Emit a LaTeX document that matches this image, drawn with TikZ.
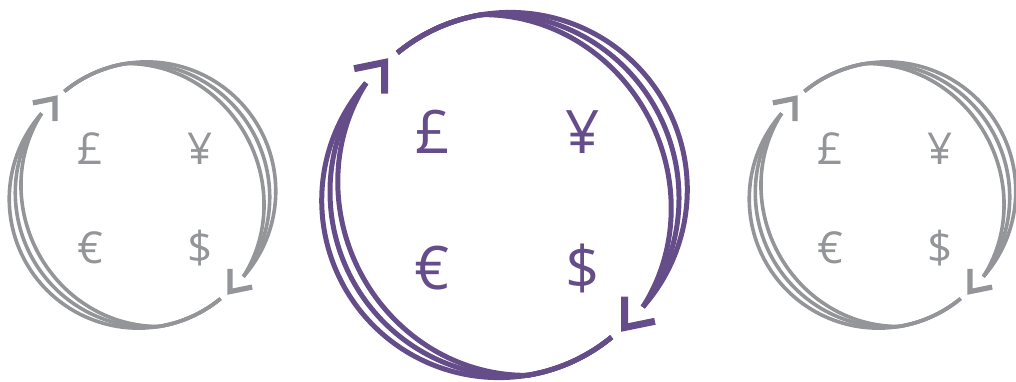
\documentclass[tikz,border=0pt]{standalone}
\usepackage{fontspec}
\setmainfont{Open Sans}
\definecolor{purp}{HTML}{654D8A}
\definecolor{gry}{HTML}{939598}
\tikzset{
  declare function={
    prog(\x)=(127-\x)/166;
    fb(\t)=(\t>0.18)*sin(180*(\t-0.18)/0.82);
    rr(\x,\k)=178+7*sin(180*prog(\x))-\k*10.5*fb(prog(\x));
  },
  cur/.style={anchor=base, inner sep=0pt},
}
\newcommand\emblem[7]{%
  \begin{scope}[shift={(#2,186)}, scale=#3, #4]
    \foreach \rot in {0,180}{
      \begin{scope}[rotate=\rot]
        \foreach \k in {0,1,2}{
          \draw[line width=#5, line cap=butt]
            plot[domain=127:-39, samples=120, smooth] (\x:{rr(\x,\k)});
        }
        \draw[line width=#6, line join=miter, line cap=butt]
          (150.4,-126.3) -- (120,-132.5) -- (120,-101.5);
      \end{scope}
    }
    \node[cur, font=\fontsize{#7}{#7}\selectfont] (#1gbp) at (-72,42) {£};
    \node[cur, font=\fontsize{#7}{#7}\selectfont] (#1jpy) at (78.5,42) {¥};
    \node[cur, font=\fontsize{#7}{#7}\selectfont] (#1eur) at (-72,-94) {€};
    \node[cur, font=\fontsize{#7}{#7}\selectfont] (#1usd) at (78.5,-94) {\$};
  \end{scope}%
}
\begin{document}
\begin{tikzpicture}[x=1pt,y=1pt]
  \useasboundingbox (0,0) rectangle (1016,381);
  \emblem{L}{142.5}{0.729}{gry}{3.6pt}{5.2pt}{44}
  \emblem{M}{504.5}{1}{purp}{5pt}{7pt}{60}
  \emblem{R}{882.5}{0.729}{gry}{3.6pt}{5.2pt}{44}
\end{tikzpicture}
\end{document}
